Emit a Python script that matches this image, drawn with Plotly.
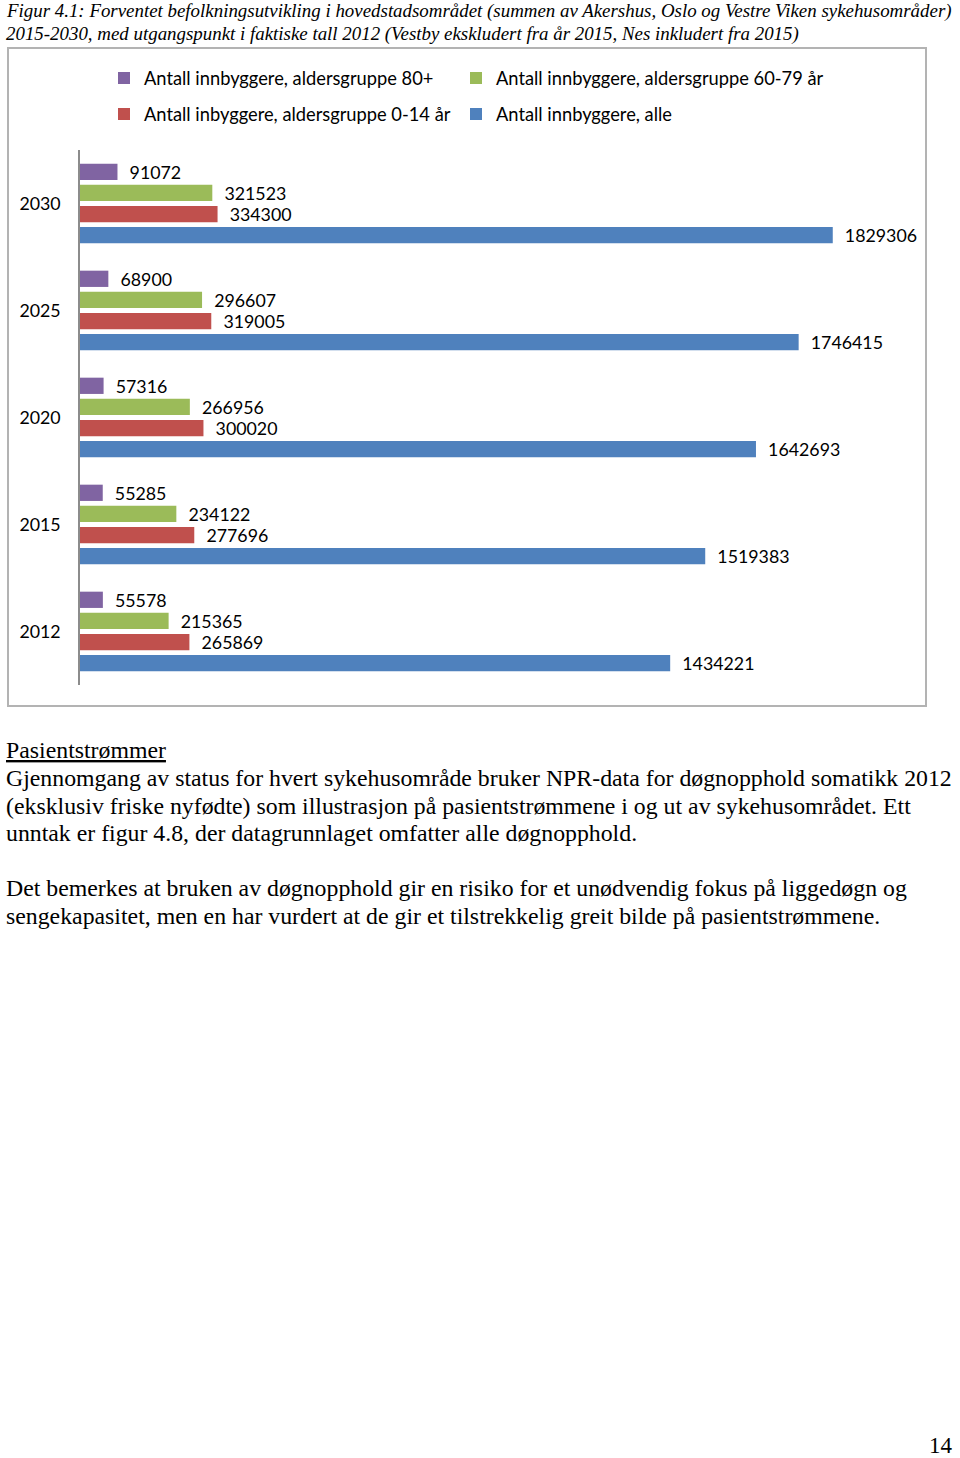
import plotly.graph_objects as go

# ---- data ----
years = ["2012", "2015", "2020", "2025", "2030"]
alle = [1434221, 1519383, 1642693, 1746415, 1829306]
age_0_14 = [265869, 277696, 300020, 319005, 334300]
age_60_79 = [215365, 234122, 266956, 296607, 321523]
age_80 = [55578, 55285, 57316, 68900, 91072]

series_names = [
    "Antall innbyggere, alle",
    "Antall inbyggere, aldersgruppe 0-14 år",
    "Antall innbyggere, aldersgruppe 60-79 år",
    "Antall innbyggere, aldersgruppe 80+",
]
series_values = [alle, age_0_14, age_60_79, age_80]
series_colors = ["#4F81BD", "#C0504D", "#9BBB59", "#8064A2"]

title_lines = [
    "Figur 4.1: Forventet befolkningsutvikling i hovedstadsområdet (summen av Akershus, Oslo og Vestre Viken sykehusområder)",
    "2015-2030, med utgangspunkt i faktiske tall 2012 (Vestby ekskludert fra år 2015, Nes inkludert fra 2015)",
]
body_lines = [
    "Gjennomgang av status for hvert sykehusområde bruker NPR-data for døgnopphold somatikk 2012",
    "(eksklusiv friske nyfødte) som illustrasjon på pasientstrømmene i og ut av sykehusområdet. Ett",
    "unntak er figur 4.8, der datagrunnlaget omfatter alle døgnopphold.",
    "",
    "Det bemerkes at bruken av døgnopphold gir en risiko for et unødvendig fokus på liggedøgn og",
    "sengekapasitet, men en har vurdert at de gir et tilstrekkelig greit bilde på pasientstrømmene.",
]
heading = "Pasientstrømmer"
page_number = "14"

# ---- geometry ----
FW, FH = 960, 1458
L, R, T, B = 80, 903, 150, 685
PW, PH = R - L, B - T


def px(x):
    return (x - L) / PW


def py(y):
    return (B - y) / PH


CHART_FONT = "Lato, Carlito, Calibri, sans-serif"
SERIF = "Liberation Serif, Times New Roman, serif"

fig = go.Figure()
legend_ids = ["legend4", "legend3", "legend2", "legend"]
for name, vals, col, lg in zip(series_names, series_values, series_colors, legend_ids):
    fig.add_trace(go.Bar(
        y=years, x=vals, orientation="h", name=name,
        marker=dict(color=col, line=dict(width=0)),
        text=["\u00a0\u00a0" + str(v) for v in vals],
        textposition="outside", constraintext="none", cliponaxis=False,
        textfont=dict(family=CHART_FONT, size=17.8, color="#000000"),
        legend=lg, hoverinfo="skip",
    ))

# legend positions (pixel positions of each legend box)
leg_pos = {"legend": (104, 78), "legend2": (456, 78), "legend3": (104, 114), "legend4": (456, 114)}
leg_layout = {}
for k, (lx, ly) in leg_pos.items():
    leg_layout[k] = dict(
        x=lx / FW, y=1 - ly / FH, xref="container", yref="container",
        xanchor="left", yanchor="middle", orientation="h",
        font=dict(family=CHART_FONT, size=18.3, color="#000000"),
        bgcolor="rgba(0,0,0,0)", borderwidth=0, itemwidth=30,
    )

annotations = []
for i, line in enumerate(title_lines):
    annotations.append(dict(
        text="<i>" + line + "</i>", x=px(4), y=py(11 + i * 23), xref="paper", yref="paper",
        xanchor="left", yanchor="middle", showarrow=False,
        font=dict(family=SERIF, size=18.9, color="#000000"),
    ))
annotations.append(dict(
    text="<u>" + heading + "</u>", x=px(4), y=py(750), xref="paper", yref="paper",
    xanchor="left", yanchor="middle", showarrow=False,
    font=dict(family=SERIF, size=23.8, color="#000000"),
))
for i, line in enumerate(body_lines):
    if not line:
        continue
    annotations.append(dict(
        text=line, x=px(4), y=py(778 + i * 27.6), xref="paper", yref="paper",
        xanchor="left", yanchor="middle", showarrow=False,
        font=dict(family=SERIF, size=23.8, color="#000000"),
    ))
annotations.append(dict(
    text=page_number, x=px(955), y=py(1446), xref="paper", yref="paper",
    xanchor="right", yanchor="middle", showarrow=False,
    font=dict(family=SERIF, size=23, color="#000000"),
))

shapes = [dict(
    type="rect", xref="paper", yref="paper",
    x0=px(8), x1=px(926), y0=py(706), y1=py(48),
    line=dict(color="#b3b3b3", width=2), fillcolor="rgba(0,0,0,0)", layer="below",
)]

fig.update_layout(
    width=FW, height=FH,
    margin=dict(l=L, r=FW - R, t=T, b=FH - B, pad=0),
    paper_bgcolor="white", plot_bgcolor="white",
    barmode="group", bargap=0.21, bargroupgap=0.23,
    xaxis=dict(range=[0, 2000000], visible=False, fixedrange=True),
    yaxis=dict(
        type="category", categoryorder="array", categoryarray=years,
        showline=True, linecolor="#8c8c8c", linewidth=1.5,
        showgrid=False, zeroline=False, ticks="", ticklabelstandoff=14,
        tickfont=dict(family=CHART_FONT, size=17.8, color="#000000"),
    ),
    annotations=annotations, shapes=shapes,
    showlegend=True,
    **leg_layout,
)

fig.write_html(
    "out.html",
    config={"displayModeBar": False},
    post_script="document.body.style.margin='0';document.body.style.overflow='hidden';",
)
